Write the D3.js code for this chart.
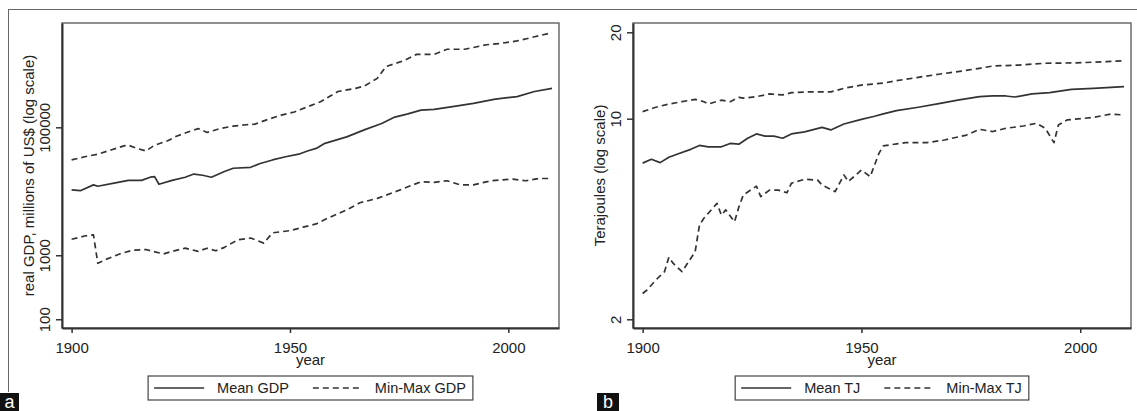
<!DOCTYPE html>
<html>
<head>
<meta charset="utf-8">
<script src="https://cdn.jsdelivr.net/npm/d3@7"></script>
<style>
  body { margin: 0; background: #fff; }
  svg { display: block; font-family: "Liberation Sans", Arial, sans-serif; }
</style>
</head>
<body>
<script>
const WIDTH  = 1137;
const HEIGHT = 411;

// Data
const YEAR_TICKS = [1900, 1950, 2000];
const GDP_TICKS  = [100, 1000, 100000];
const TJ_TICKS   = [2, 10, 20];

// panel a : real GDP, millions of US$
const gdpMeanYears = [1900, 1902, 1905, 1906, 1910, 1913, 1916, 1918, 1919, 1920, 1923, 1926, 1928, 1930, 1932, 1935, 1937, 1941, 1943, 1946, 1949, 1952, 1954, 1956, 1958, 1963, 1967, 1971, 1974, 1977, 1980, 1983, 1988, 1992, 1997, 2002, 2006, 2010];
const gdpMean      = [10500, 10230, 12600, 12000, 13500, 14800, 14800, 16600, 17000, 12900, 14800, 16600, 18600, 17800, 16600, 20400, 22900, 23700, 26900, 30900, 34700, 38000, 42700, 46800, 56200, 70800, 91200, 114800, 144500, 162000, 186000, 190500, 214000, 237000, 275000, 302000, 363000, 407000];

const gdpMaxYears = [1900, 1903, 1906, 1909, 1912, 1913, 1915, 1917, 1919, 1922, 1924, 1926, 1929, 1931, 1934, 1937, 1940, 1942, 1945, 1948, 1951, 1954, 1957, 1961, 1965, 1967, 1970, 1972, 1976, 1979, 1983, 1986, 1990, 1995, 1998, 2002, 2006, 2010];
const gdpMax      = [30900, 34700, 38000, 44200, 51300, 52500, 46800, 42700, 52500, 61700, 72400, 81300, 95500, 83200, 95500, 104700, 109600, 112200, 133400, 154900, 173800, 208900, 251000, 363000, 407000, 441600, 582100, 891000, 1096000, 1380000, 1380000, 1660000, 1660000, 1950000, 2040000, 2240000, 2600000, 3020000];

const gdpMinYears = [1900, 1903, 1905, 1906, 1908, 1911, 1914, 1917, 1921, 1923, 1926, 1929, 1931, 1933, 1935, 1938, 1941, 1944, 1946, 1950, 1953, 1956, 1958, 1963, 1966, 1970, 1974, 1977, 1980, 1983, 1986, 1989, 1992, 1996, 2001, 2004, 2007, 2010];
const gdpMin      = [1780, 2000, 2090, 750, 870, 1050, 1200, 1230, 1050, 1150, 1290, 1150, 1290, 1175, 1330, 1740, 1860, 1550, 2240, 2430, 2750, 3090, 3630, 5130, 6610, 7760, 9770, 11750, 14100, 13800, 14600, 12600, 12600, 14600, 15500, 14600, 15850, 15850];

// panel b : Terajoules
const tjMeanYears = [1900, 1902, 1904, 1906, 1908, 1911, 1913, 1915, 1918, 1920, 1922, 1924, 1926, 1928, 1930, 1932, 1934, 1937, 1941, 1943, 1946, 1950, 1953, 1955, 1958, 1963, 1968, 1972, 1977, 1980, 1983, 1985, 1989, 1993, 1998, 2003, 2010];
const tjMean      = [7.0, 7.22, 7.03, 7.34, 7.53, 7.82, 8.07, 7.98, 7.98, 8.2, 8.15, 8.55, 8.85, 8.7, 8.7, 8.55, 8.85, 9.0, 9.33, 9.14, 9.58, 9.95, 10.2, 10.4, 10.67, 10.96, 11.3, 11.6, 11.93, 12.0, 12.0, 11.9, 12.2, 12.32, 12.66, 12.76, 12.93];

const tjMaxYears = [1900, 1903, 1906, 1909, 1912, 1914, 1915, 1918, 1920, 1922, 1923, 1926, 1929, 1932, 1934, 1938, 1943, 1946, 1950, 1955, 1958, 1963, 1968, 1972, 1977, 1980, 1986, 1992, 1999, 2006, 2010];
const tjMax      = [10.58, 10.96, 11.25, 11.46, 11.68, 11.46, 11.25, 11.6, 11.46, 11.87, 11.8, 11.93, 12.2, 12.1, 12.32, 12.4, 12.4, 12.76, 13.1, 13.3, 13.56, 13.94, 14.31, 14.58, 14.98, 15.26, 15.38, 15.6, 15.65, 15.8, 15.92];

const tjMinYears = [1900, 1901, 1903, 1905, 1906, 1907, 1909, 1910, 1912, 1913, 1914, 1915, 1917, 1918, 1919, 1921, 1922, 1923, 1926, 1927, 1929, 1931, 1933, 1934, 1937, 1940, 1941, 1944, 1946, 1947, 1950, 1952, 1954, 1955, 1960, 1965, 1969, 1974, 1977, 1980, 1983, 1987, 1990, 1992, 1994, 1995, 1997, 2003, 2007, 2010];
const tjMin      = [2.46, 2.53, 2.74, 2.93, 3.29, 3.13, 2.93, 3.09, 3.44, 4.27, 4.5, 4.68, 5.07, 4.61, 4.81, 4.37, 4.93, 5.42, 5.82, 5.35, 5.64, 5.64, 5.52, 5.96, 6.15, 6.11, 5.87, 5.57, 6.37, 6.04, 6.62, 6.28, 7.57, 8.04, 8.25, 8.25, 8.43, 8.77, 9.18, 9.02, 9.26, 9.43, 9.64, 9.26, 8.25, 9.5, 9.9, 10.1, 10.38, 10.3];

// Layout
const X_DOMAIN   = [1897.8, 2011.6];
const LINE_COLOR = "#333";
const TEXT_COLOR = "#222";
const FONT_SIZE  = 15;

const PANELS = [
  {
    left: 62, right: 559, top: 23, bottom: 328,
    yDomain: [73, 4.27e6],
    yTicks: GDP_TICKS,
    yTitle: "real GDP, millions of US$ (log scale)",
    series: [
      { years: gdpMeanYears, values: gdpMean, dash: false },
      { years: gdpMaxYears,  values: gdpMax,  dash: true },
      { years: gdpMinYears,  values: gdpMin,  dash: true }
    ],
    legend: ["Mean GDP", "Min-Max GDP"],
    tag: "a", tagX: 0, tagW: 19
  },
  {
    left: 633, right: 1131, top: 23, bottom: 328,
    yDomain: [1.865, 21.55],
    yTicks: TJ_TICKS,
    yTitle: "Terajoules (log scale)",
    series: [
      { years: tjMeanYears, values: tjMean, dash: false },
      { years: tjMaxYears,  values: tjMax,  dash: true },
      { years: tjMinYears,  values: tjMin,  dash: true }
    ],
    legend: ["Mean TJ", "Min-Max TJ"],
    tag: "b", tagX: 597, tagW: 22
  }
];

const svg = d3.select("body").append("svg")
  .attr("width", WIDTH)
  .attr("height", HEIGHT);

// outer frame of the figure (top and left edges only)
svg.append("line")
  .attr("x1", 8).attr("x2", WIDTH).attr("y1", 9.5).attr("y2", 9.5)
  .attr("stroke", "#666").attr("stroke-width", 1);
svg.append("line")
  .attr("x1", 8.5).attr("x2", 8.5).attr("y1", 9).attr("y2", 392)
  .attr("stroke", "#666").attr("stroke-width", 1);

function drawLegend(p, cx) {
  const g = svg.append("g");
  const boxTop = 376, boxBottom = 400, baseline = 393, midY = 388;
  const sampleLen = 50;

  const t1 = g.append("text").attr("y", baseline).text(p.legend[0]);
  const t2 = g.append("text").attr("y", baseline).text(p.legend[1]);
  g.selectAll("text")
    .style("font-size", (FONT_SIZE - 0.5) + "px")
    .attr("fill", TEXT_COLOR);
  const w1 = t1.node().getComputedTextLength();
  const w2 = t2.node().getComputedTextLength();

  const total = 6 + sampleLen + 13 + w1 + 24 + sampleLen + 12 + w2 + 7;
  const left = cx - total / 2;

  g.insert("rect", "text")
    .attr("x", left).attr("y", boxTop)
    .attr("width", total).attr("height", boxBottom - boxTop)
    .attr("fill", "#fff").attr("stroke", "#444").attr("stroke-width", 1.2);

  let xPos = left + 6;
  g.append("line")
    .attr("x1", xPos).attr("x2", xPos + sampleLen)
    .attr("y1", midY).attr("y2", midY)
    .attr("stroke", LINE_COLOR).attr("stroke-width", 1.4);
  xPos += sampleLen + 13;
  t1.attr("x", xPos);
  xPos += w1 + 24;
  g.append("line")
    .attr("x1", xPos).attr("x2", xPos + sampleLen)
    .attr("y1", midY).attr("y2", midY)
    .attr("stroke", LINE_COLOR).attr("stroke-width", 1.4)
    .attr("stroke-dasharray", "6,4");
  xPos += sampleLen + 12;
  t2.attr("x", xPos);
}

function drawPanel(p) {
  const xScale = d3.scaleLinear().domain(X_DOMAIN).range([p.left, p.right]);
  const yScale = d3.scaleLog().domain(p.yDomain).range([p.bottom, p.top]);

  // plot frame
  svg.append("rect")
    .attr("x", p.left).attr("y", p.top)
    .attr("width", p.right - p.left).attr("height", p.bottom - p.top)
    .attr("fill", "none").attr("stroke", "#555").attr("stroke-width", 1.3);

  // series
  const line = d3.line()
    .x(d => xScale(d[0]))
    .y(d => yScale(d[1]));
  p.series.forEach(s => {
    svg.append("path")
      .datum(d3.zip(s.years, s.values))
      .attr("d", line)
      .attr("fill", "none")
      .attr("stroke", LINE_COLOR)
      .attr("stroke-width", 1.7)
      .attr("stroke-linejoin", "round")
      .attr("stroke-dasharray", s.dash ? "6,4" : null);
  });

  // x axis
  const xAxis = d3.axisBottom(xScale)
    .tickValues(YEAR_TICKS)
    .tickFormat(d3.format("d"))
    .tickSize(5)
    .tickSizeOuter(0);
  const gx = svg.append("g")
    .attr("transform", "translate(0," + p.bottom + ")")
    .call(xAxis);
  gx.attr("font-family", null).attr("font-size", null);
  gx.select(".domain").attr("stroke", "#333").attr("stroke-width", 2);
  gx.selectAll(".tick line").attr("stroke", "#333").attr("stroke-width", 1.5);
  gx.selectAll(".tick text")
    .attr("y", 25).attr("dy", 0)
    .attr("fill", TEXT_COLOR)
    .style("font-size", FONT_SIZE + "px");

  // y axis, labels turned on their side
  const yAxis = d3.axisLeft(yScale)
    .tickValues(p.yTicks)
    .tickFormat(d3.format("d"))
    .tickSize(6)
    .tickSizeOuter(0);
  const gy = svg.append("g")
    .attr("transform", "translate(" + p.left + ",0)")
    .call(yAxis);
  gy.attr("font-family", null).attr("font-size", null);
  gy.select(".domain").attr("stroke", "#333").attr("stroke-width", 2);
  gy.selectAll(".tick line").attr("stroke", "#333").attr("stroke-width", 1.5);
  gy.selectAll(".tick text")
    .attr("transform", "rotate(-90)")
    .attr("x", 0).attr("y", -12).attr("dy", 0)
    .attr("text-anchor", "middle")
    .attr("fill", TEXT_COLOR)
    .style("font-size", FONT_SIZE + "px");

  // axis titles
  const midY = (p.top + p.bottom) / 2;
  svg.append("text")
    .attr("transform", "translate(" + (p.left - 28) + "," + midY + ") rotate(-90)")
    .attr("text-anchor", "middle")
    .attr("fill", TEXT_COLOR)
    .style("font-size", FONT_SIZE + "px")
    .text(p.yTitle);
  const midX = (p.left + p.right) / 2;
  svg.append("text")
    .attr("x", midX).attr("y", 365)
    .attr("text-anchor", "middle")
    .attr("fill", TEXT_COLOR)
    .style("font-size", FONT_SIZE + "px")
    .text("year");

  drawLegend(p, midX);

  // panel letter in a black box
  svg.append("rect")
    .attr("x", p.tagX).attr("y", 393)
    .attr("width", p.tagW).attr("height", HEIGHT - 393)
    .attr("fill", "#111");
  svg.append("text")
    .attr("x", p.tagX + p.tagW / 2).attr("y", 408)
    .attr("text-anchor", "middle")
    .attr("fill", "#fff")
    .style("font-size", "18px")
    .text(p.tag);
}

PANELS.forEach(drawPanel);
</script>
</body>
</html>
